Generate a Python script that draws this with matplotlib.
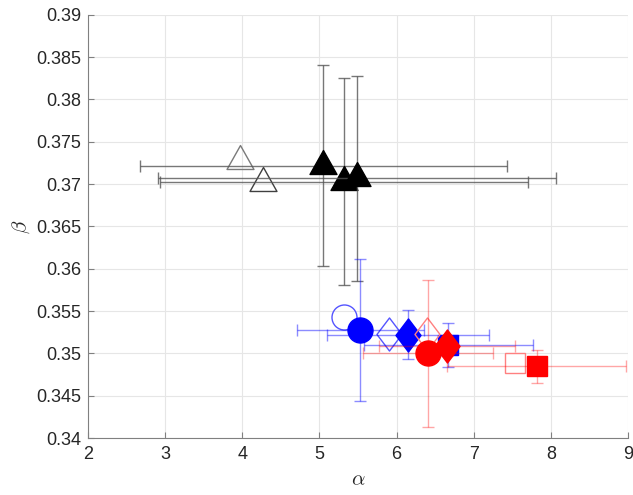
import numpy as np
import matplotlib
matplotlib.use("Agg")
from matplotlib import pyplot as plt
from matplotlib.path import Path

plt.rcParams['font.family'] = ['Liberation Sans', 'DejaVu Sans']
plt.rcParams['mathtext.fontset'] = 'cm'

# filled markers, with error bars
tri_alpha = [5.05, 5.32, 5.49]
tri_beta = [0.3722, 0.3703, 0.3707]
tri_xerr = [2.38, 2.39, 2.58]
tri_yerr = [0.0119, 0.0122, 0.0121]

blue_alpha = [5.53, 6.15, 6.67]
blue_beta = [0.3528, 0.3522, 0.3510]
blue_xerr = [0.82, 1.055, 1.095]
blue_yerr = [0.0084, 0.0029, 0.0026]
blue_marks = ['o', 'D', 's']

red_alpha = [6.41, 6.65, 7.82]
red_beta = [0.3500, 0.3509, 0.3485]
red_xerr = [0.84, 0.88, 1.16]
red_yerr = [0.0087, 0.0012, 0.00195]
red_marks = ['o', 'D', 's']

# open markers, no error bars
open_tri_alpha = [3.97, 4.27]
open_tri_beta = [0.3727, 0.3701]
open_tri_colors = ['#7a7a7a', '#404040']

open_blue_alpha = [5.32, 5.90]
open_blue_beta = [0.3543, 0.3523]
open_blue_marks = ['o', 'D']

open_red_alpha = [6.40, 7.54]
open_red_beta = [0.3523, 0.3489]
open_red_marks = ['D', 's']

# MATLAB-like markers: triangle centred at centroid, diamond taller than wide
tri_path = Path([(0, 16), (-13.5, -8), (13.5, -8), (0, 16)], closed=True)
dia_path = Path([(0, 16.5), (12.5, 0), (0, -16.5), (-12.5, 0), (0, 16.5)], closed=True)
marker_map = {'^': (tri_path, 23), 'o': ('o', 18), 'D': (dia_path, 23.8), 's': ('s', 14.4)}


def mk(m):
    return marker_map[m]


fig = plt.figure(figsize=(6.33, 4.95), dpi=100)
ax = fig.add_axes([0.139, 0.115, 0.853, 0.855])

for a, b, c in zip(open_tri_alpha, open_tri_beta, open_tri_colors):
    m, s = mk('^')
    ax.plot(a, b, linestyle='none', marker=m, markersize=s, markerfacecolor='none',
            markeredgecolor=c, markeredgewidth=1.0)
for a, b, xe, ye in zip(tri_alpha, tri_beta, tri_xerr, tri_yerr):
    ax.errorbar(a, b, xerr=xe, yerr=ye, fmt='none', ecolor='#555555', elinewidth=1.0,
                capsize=4, capthick=1.0, alpha=0.8)
    m, s = mk('^')
    ax.plot(a, b, linestyle='none', marker=m, markersize=s, color='k')

for a, b, mm in zip(open_blue_alpha, open_blue_beta, open_blue_marks):
    m, s = mk(mm)
    ax.plot(a, b, linestyle='none', marker=m, markersize=s, markerfacecolor='none',
            markeredgecolor='#5555ff', markeredgewidth=1.0)
for a, b, xe, ye, mm in zip(blue_alpha, blue_beta, blue_xerr, blue_yerr, blue_marks):
    ax.errorbar(a, b, xerr=xe, yerr=ye, fmt='none', ecolor='#0000ff', elinewidth=1.0,
                capsize=4, capthick=1.0, alpha=0.45)
    m, s = mk(mm)
    ax.plot(a, b, linestyle='none', marker=m, markersize=s, color='#0000ff')

for a, b, mm in zip(open_red_alpha, open_red_beta, open_red_marks):
    m, s = mk(mm)
    ax.plot(a, b, linestyle='none', marker=m, markersize=s, markerfacecolor='none',
            markeredgecolor='#ff8080', markeredgewidth=1.0)
for a, b, xe, ye, mm in zip(red_alpha, red_beta, red_xerr, red_yerr, red_marks):
    ax.errorbar(a, b, xerr=xe, yerr=ye, fmt='none', ecolor='#ff0000', elinewidth=1.0,
                capsize=4, capthick=1.0, alpha=0.35)
    m, s = mk(mm)
    ax.plot(a, b, linestyle='none', marker=m, markersize=s, color='#ff0000')

ax.set_xlim(2, 9)
ax.set_ylim(0.34, 0.39)
ax.set_xticks(np.arange(2, 10, 1))
ax.set_yticks(np.linspace(0.34, 0.39, 11))
ax.set_yticklabels(['%g' % round(v, 3) for v in np.linspace(0.34, 0.39, 11)])
ax.grid(True, color='#e6e6e6', linewidth=0.8)
ax.set_axisbelow(True)
for side in ['top', 'right']:
    ax.spines[side].set_visible(False)
for side in ['left', 'bottom']:
    ax.spines[side].set_color('#808080')
    ax.spines[side].set_linewidth(0.8)
ax.tick_params(direction='in', length=4, width=0.8, color='#808080', labelsize=13,
               labelcolor='#262626')
ax.tick_params(axis='x', pad=6)
ax.tick_params(axis='y', pad=5)
ax.set_xlabel(r'$\alpha$', fontsize=15, color='#262626', labelpad=5)
ax.set_ylabel(r'$\beta$', fontsize=15, color='#262626', labelpad=3)

fig.savefig('out.png', dpi=100)
